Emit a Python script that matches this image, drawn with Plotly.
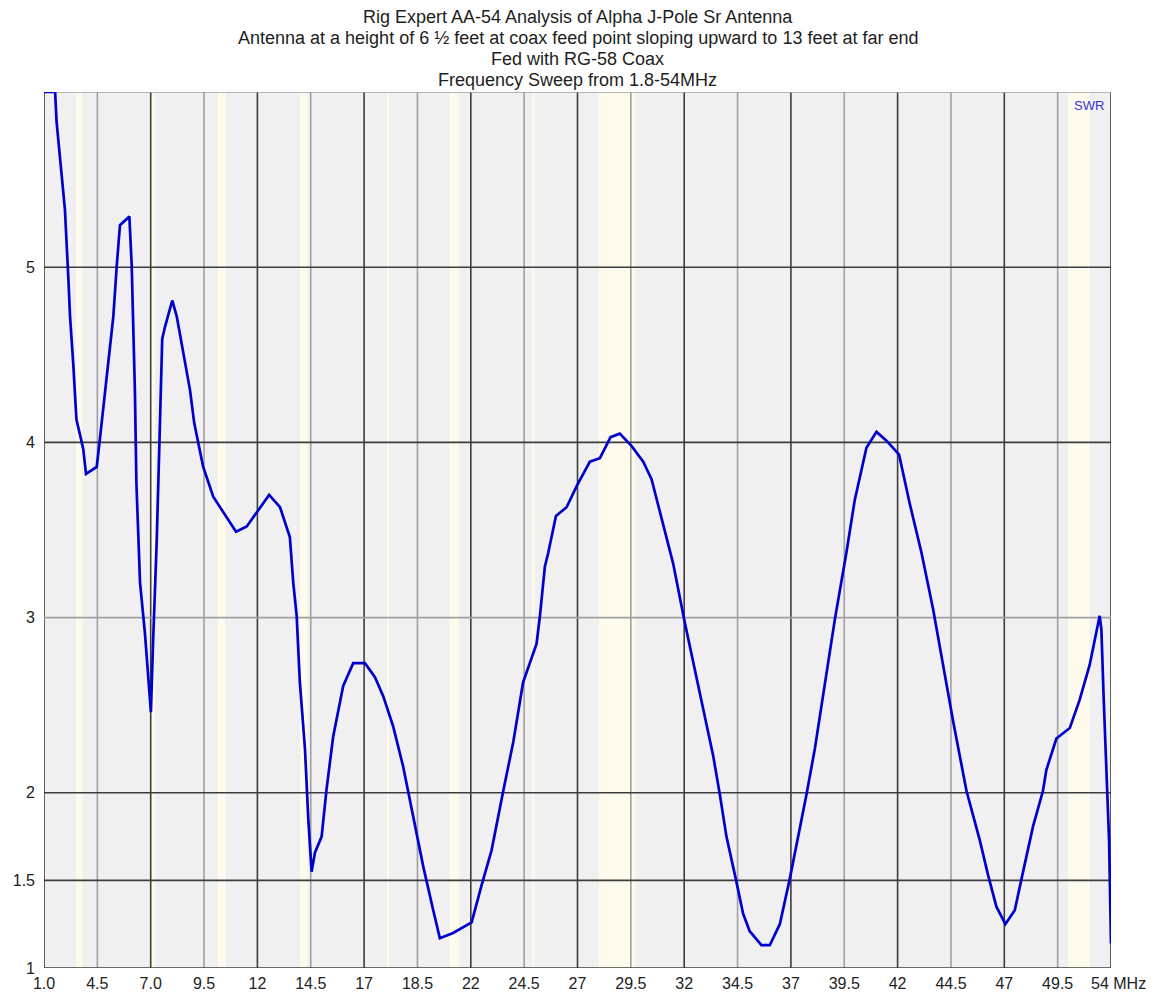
import plotly.graph_objects as go

# ---- data ----
freq_mhz = [2.00, 2.52, 2.59, 2.98, 3.14, 3.22, 3.37, 3.52, 3.77, 3.84, 3.97, 4.47, 4.62, 4.94, 5.09,
            5.25, 5.41, 5.56, 6.00, 6.11, 6.17, 6.26, 6.33, 6.42, 6.50, 6.73, 6.89, 7.01, 7.12, 7.28,
            7.40, 7.54, 7.67, 8.01, 8.22, 8.50, 8.84, 9.04, 9.31, 9.46, 9.93, 10.25, 11.00, 11.50,
            11.96, 12.55, 13.06, 13.52, 13.68, 13.84, 13.99, 14.23, 14.38, 14.54, 14.70, 15.01, 15.24,
            15.55, 16.02, 16.49, 17.04, 17.51, 17.90, 18.36, 18.83, 19.30, 19.77, 20.24, 20.55, 21.17,
            22.04, 22.50, 22.97, 23.52, 23.99, 24.45, 25.08, 25.24, 25.47, 25.63, 25.99, 26.49, 26.96,
            27.58, 28.05, 28.55, 28.98, 29.53, 30.08, 30.47, 30.86, 31.48, 32.03, 32.58, 33.05, 33.36,
            33.67, 33.98, 34.45, 34.76, 35.07, 35.62, 36.01, 36.48, 36.95, 37.42, 37.73, 38.12, 38.67,
            39.06, 39.60, 39.99, 40.54, 41.01, 41.48, 42.07, 42.57, 43.12, 43.66, 44.13, 44.60, 45.23,
            45.85, 46.24, 46.63, 47.05, 47.49, 47.88, 48.35, 48.81, 48.97, 49.44, 50.07, 50.53, 51.00,
            51.47, 51.55, 51.66, 51.78, 51.91, 52.00]
swr = [6.00, 6.00, 5.83, 5.33, 4.94, 4.72, 4.45, 4.13, 4.00, 3.96, 3.82, 3.86, 4.02, 4.38, 4.51,
       4.72, 5.01, 5.24, 5.29, 5.01, 4.72, 4.29, 3.77, 3.39, 3.20, 2.91, 2.63, 2.46, 2.89, 3.43,
       3.96, 4.59, 4.66, 4.81, 4.72, 4.53, 4.30, 4.11, 3.96, 3.86, 3.69, 3.63, 3.49, 3.52,
       3.60, 3.70, 3.63, 3.46, 3.20, 3.01, 2.63, 2.25, 1.86, 1.55, 1.66, 1.75, 2.02,
       2.32, 2.61, 2.74, 2.74, 2.66, 2.55, 2.38, 2.15, 1.86, 1.58, 1.33, 1.17, 1.20,
       1.26, 1.47, 1.67, 2.01, 2.29, 2.63, 2.85, 3.01, 3.29, 3.37, 3.58, 3.63, 3.75,
       3.89, 3.91, 4.03, 4.05, 3.98, 3.89, 3.79, 3.61, 3.31, 2.97, 2.65, 2.37, 2.21,
       1.99, 1.75, 1.49, 1.31, 1.21, 1.13, 1.13, 1.25, 1.51, 1.79, 1.99, 2.25, 2.69,
       2.99, 3.37, 3.67, 3.97, 4.06, 4.01, 3.93, 3.65, 3.37, 3.05, 2.73, 2.41, 2.01,
       1.73, 1.53, 1.35, 1.25, 1.33, 1.55, 1.81, 2.01, 2.13, 2.31, 2.37, 2.53, 2.73,
       3.01, 2.93, 2.53, 2.13, 1.73, 1.14]

x_tick_vals = [2.0, 4.5, 7.0, 9.5, 12.0, 14.5, 17.0, 19.5, 22.0, 24.5, 27.0, 29.5, 32.0, 34.5,
               37.0, 39.5, 42.0, 44.5, 47.0, 49.5, 52.0]
x_tick_text = ["1.0", "4.5", "7.0", "9.5", "12", "14.5", "17", "18.5", "22", "24.5", "27", "29.5",
               "32", "34.5", "37", "39.5", "42", "44.5", "47", "49.5", "54"]
y_tick_vals = [1, 1.5, 2, 3, 4, 5]
y_tick_text = ["1", "1.5", "2", "3", "4", "5"]
y_light_ticks = [3, 6]

ham_bands = [(3.5, 3.8), (7.0, 7.2), (10.15, 10.5), (14.0, 14.35), (18.068, 18.168),
             (21.0, 21.45), (24.89, 24.99), (28.0, 29.7), (50.0, 51.0)]

title_lines = [
    "Rig Expert AA-54 Analysis of Alpha J-Pole Sr Antenna",
    "Antenna at a height of 6 ½ feet at coax feed point sloping upward to 13 feet at far end",
    "Fed with RG-58 Coax",
    "Frequency Sweep from 1.8-54MHz",
]

X_MIN, X_MAX = 2.0, 52.0
Y_MIN, Y_MAX = 1.0, 6.0

DARK = "#3c3c3c"
LIGHT = "#a0a0a0"

fig = go.Figure()

shapes = []
for a, b in ham_bands:
    shapes.append(dict(type="rect", xref="x", yref="y", x0=a, x1=b, y0=Y_MIN, y1=Y_MAX,
                       fillcolor="#fffbec", line=dict(width=0), layer="below"))
for i, xv in enumerate(x_tick_vals):
    shapes.append(dict(type="line", xref="x", yref="y", x0=xv, x1=xv, y0=Y_MIN, y1=Y_MAX,
                       line=dict(color=DARK if i % 2 == 0 else LIGHT, width=1.6), layer="below"))
for yv in y_tick_vals + [Y_MAX]:
    shapes.append(dict(type="line", xref="x", yref="y", x0=X_MIN, x1=X_MAX, y0=yv, y1=yv,
                       line=dict(color=LIGHT if yv in y_light_ticks else DARK, width=1.6),
                       layer="below"))

fig.add_trace(go.Scatter(x=freq_mhz, y=swr, mode="lines",
                         line=dict(color="#0000cc", width=2.7), showlegend=False,
                         hoverinfo="x+y"))

annotations = [
    dict(text="SWR", x=0.979, y=0.985, xref="paper", yref="paper", showarrow=False,
         xanchor="center", yanchor="middle", font=dict(family="Arial", size=13, color="#3535e0")),
    dict(text=x_tick_text[-1] + " MHz", x=X_MAX, y=Y_MIN, xref="x", yref="y", showarrow=False,
         xanchor="left", yanchor="top", xshift=-22, yshift=-5,
         font=dict(family="Arial", size=16, color="#222222")),
]
for k, line in enumerate(title_lines):
    annotations.append(dict(text=line, x=0.5, y=1, xref="paper", yref="paper", showarrow=False,
                            xanchor="center", yanchor="middle", yshift=92 - 16.5 - 21.3 * k,
                            font=dict(family="Arial", size=18, color="#1e1e1e")))

# page body has an 8px default margin -> compensate so the plot lands where the reference is
fig.update_layout(
    width=1154, height=989,
    margin=dict(l=36, r=51, t=84, b=29, autoexpand=False),
    paper_bgcolor="white",
    plot_bgcolor="#f0f0f0",
    shapes=shapes,
    annotations=annotations,
    font=dict(family="Arial", size=16, color="#222222"),
    xaxis=dict(range=[X_MIN, X_MAX], tickvals=x_tick_vals[:-1], ticktext=x_tick_text[:-1],
               showgrid=False, zeroline=False, showline=False, ticks="", automargin=False,
               ticklabelstandoff=4, tickfont=dict(size=16, color="#222222")),
    yaxis=dict(range=[Y_MIN, Y_MAX], tickvals=y_tick_vals, ticktext=y_tick_text,
               showgrid=False, zeroline=False, showline=False, ticks="", automargin=False,
               ticklabelstandoff=8, tickfont=dict(size=16, color="#222222")),
)

fig.write_html("out.html")
